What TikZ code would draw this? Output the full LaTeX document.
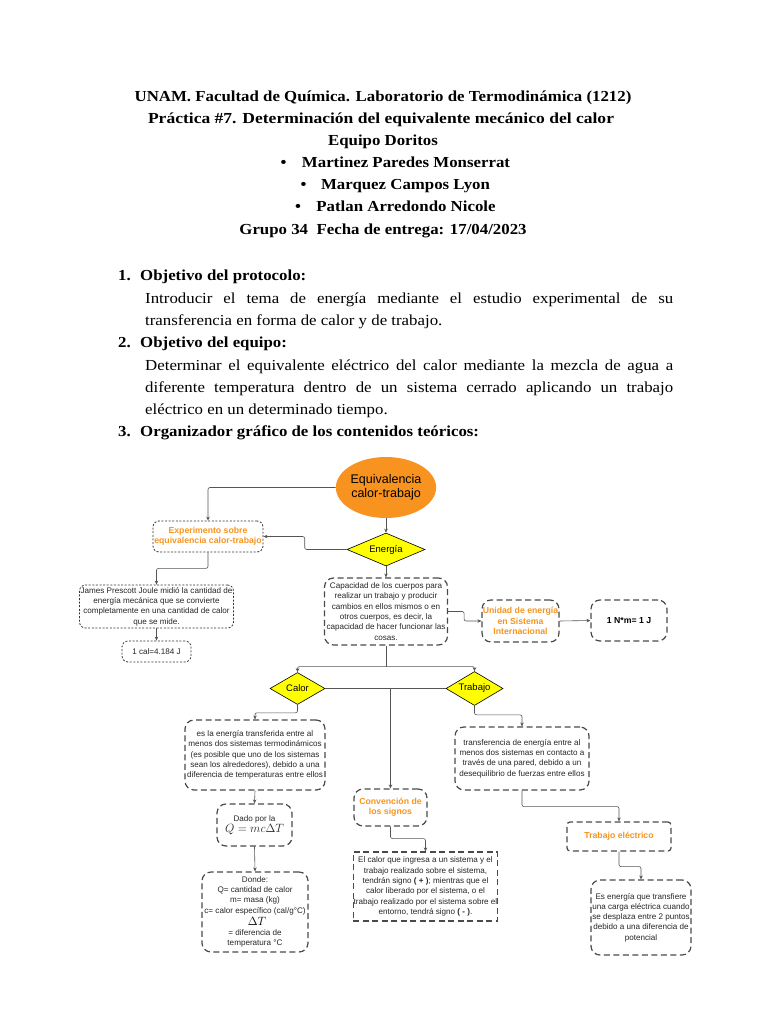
\documentclass[tikz,border=0pt]{standalone}
\usepackage{graphicx}
\usepackage{fontspec}
\setmainfont{Liberation Serif}
\newfontfamily\hdr[FakeStretch=1.1]{Liberation Serif}
\newfontfamily\dg{Liberation Sans}
\usetikzlibrary{shapes.geometric,arrows.meta}
\definecolor{orfill}{HTML}{F7931E}
\definecolor{ortxt}{HTML}{F7941D}
\definecolor{yel}{HTML}{FFFF00}
\definecolor{lc}{HTML}{555555}
\definecolor{bc}{HTML}{4A4A4A}
\definecolor{txt}{HTML}{262626}
\begin{document}
\begin{tikzpicture}[x=1pt,y=-1pt,
  conn/.style={draw=lc, line width=0.6pt, rounded corners=2pt, -{Stealth[length=4pt,width=3.5pt]}},
  plain/.style={draw=lc, line width=0.6pt, rounded corners=2pt},
  box/.style={align=center, inner xsep=0.5pt, inner ysep=0pt, fill=white, text=txt, font=\dg\fontsize{8.1}{10.3}\selectfont},
  dotbox/.style={box, draw=black!80, line width=0.8pt, dash pattern=on 2pt off 1.6pt, rounded corners=6pt},
  dashbox/.style={box, draw=bc, line width=1.2pt, dash pattern=on 6pt off 3.5pt, rounded corners=9pt},
  wh/.style 2 args={minimum width=#1, minimum height=#2},
  otx/.style={text=ortxt, font=\dg\bfseries\fontsize{8.7}{10.3}\selectfont},
  dia/.style={diamond, draw=black, line width=0.6pt, fill=yel, inner sep=0pt, aspect=2, font=\dg\fontsize{9.5}{11}\selectfont},
  hd/.style={anchor=base, inner sep=0pt, font=\hdr\bfseries\fontsize{15.3}{22.2}\selectfont},
  hdw/.style={anchor=base west, inner sep=0pt, font=\hdr\bfseries\fontsize{15.3}{22.2}\selectfont},
  bd/.style={anchor=base west, inner sep=0pt, font=\hdr\fontsize{15.3}{22.2}\selectfont},
]
\fill[white] (0,0) rectangle (768,1024);
\useasboundingbox (0,0) rectangle (768,1024);

% header
\node[hd] (h1) at (383,102) {UNAM. Facultad de Química. Laboratorio de Termodinámica (1212)};
\node[hd] (h2) at (381,124) {\resizebox{466pt}{\height}{Práctica \#7. Determinación del equivalente mecánico del calor}};
\node[hd] (h3) at (383,146) {Equipo Doritos};
\node[hd] (h4) at (406,168) {Martinez Paredes Monserrat};
\node[hd] (h5) at (405.5,190) {Marquez Campos Lyon};
\node[hd] (h6) at (406,212) {Patlan Arredondo Nicole};
\node[hd] (h7) at (383,234) {Grupo 34\ \ Fecha de entrega: 17/04/2023};
\node[hd, anchor=base east, xshift=-15pt] (b1) at (h4.base west) {\textbullet};
\node[hd, anchor=base east, xshift=-14pt] (b2) at (h5.base west) {\textbullet};
\node[hd, anchor=base east, xshift=-15pt] (b3) at (h6.base west) {\textbullet};

% sections
\node[hdw] (n1) at (118,280) {1.};
\node[hdw] (s1) at (140,280) {Objetivo del protocolo:};
\node[bd] (p1a) at (145,303) {\makebox[528pt][s]{Introducir el tema de energía mediante el estudio experimental de su}};
\node[bd] (p1b) at (145,325) {transferencia en forma de calor y de trabajo.};
\node[hdw] (n2) at (118,347) {2.};
\node[hdw] (s2) at (140,347) {Objetivo del equipo:};
\node[bd] (p2a) at (145,370) {\makebox[528pt][s]{Determinar el equivalente eléctrico del calor mediante la mezcla de agua a}};
\node[bd] (p2b) at (145,392) {\makebox[528pt][s]{diferente temperatura dentro de un sistema cerrado aplicando un trabajo}};
\node[bd] (p2c) at (145,414) {eléctrico en un determinado tiempo.};
\node[hdw] (n3) at (118,436) {3.};
\node[hdw] (s3) at (140,436) {Organizador gráfico de los contenidos teóricos:};

% diagram nodes
\node[ellipse, fill=orfill, minimum width=94pt, minimum height=61pt, inner sep=0pt, align=center, font=\dg\fontsize{12.5}{14.5}\selectfont] (eq) at (386,487.5) {Equivalencia\\calor-trabajo};
\node[dia, minimum width=78pt, minimum height=33pt] (en) at (386,549.5) {Energía};
\node[dotbox, wh={110pt}{31pt}, otx] (exp) at (208,536.5) {Experimento sobre\\equivalencia calor-trabajo};
\node[dotbox, wh={154pt}{43pt}] (jo) at (156.5,606.5) {James Prescott Joule midió la cantidad de\\energía mecánica que se convierte\\completamente en una cantidad de calor\\que se mide.};
\node[dotbox, wh={69pt}{21pt}] (cal) at (156.5,651.5) {1 cal=4.184 J};
\node[dashbox, wh={123pt}{67pt}] (cap) at (386,611.5) {Capacidad de los cuerpos para\\realizar un trabajo y producir\\cambios en ellos mismos o en\\otros cuerpos, es decir, la\\capacidad de hacer funcionar las\\cosas.};
\node[dashbox, wh={77pt}{42pt}, otx] (uni) at (520.5,621) {Unidad de energía\\en Sistema\\Internacional};
\node[dashbox, wh={76pt}{41pt}, text=black, font=\dg\bfseries\fontsize{8.7}{10}\selectfont] (nm) at (629,620.5) {1 N*m= 1 J};
\node[dia, minimum width=55pt, minimum height=32pt] (ca) at (297.5,688.5) {Calor};
\node[dia, minimum width=57pt, minimum height=34pt] (tr) at (474.5,688.5) {Trabajo};
\node[dashbox, wh={140pt}{70pt}] (cb) at (255,755) {es la energía transferida entre al\\menos dos sistemas termodinámicos\\(es posible que uno de los sistemas\\sean los alrededores), debido a una\\diferencia de temperaturas entre ellos};
\node[dashbox, wh={134pt}{63pt}] (tb) at (522,758.5) {transferencia de energía entre al\\menos dos sistemas en contacto a\\través de una pared, debido a un\\desequilibrio de fuerzas entre ellos};
\node[dashbox, wh={75pt}{42pt}] (da) at (254.5,825) {Dado por la\\[1pt]{\fontsize{12.5}{13}\selectfont$Q = mc\Delta T$}};
\node[dashbox, wh={106pt}{80pt}] (do) at (255,912) {Donde:\\Q= cantidad de calor\\m= masa (kg)\\c= calor específico (cal/g°C)\\[12pt]= diferencia de\\temperatura °C};
\node[anchor=base, inner sep=0pt, font=\fontsize{12}{13}\selectfont] (dt) at (257,925) {$\Delta T$};
\node[dashbox, wh={73pt}{37pt}, otx] (cv) at (390.5,807.5) {Convención de\\los signos};
\node[dashbox, wh={143pt}{69pt}, rounded corners=0pt] (cs) at (425.5,886.5) {El calor que ingresa a un sistema y el\\trabajo realizado sobre el sistema,\\tendrán signo \textbf{( + )}; mientras que el\\calor liberado por el sistema, o el\\trabajo realizado por el sistema sobre el\\entorno, tendrá signo \textbf{( - )}.};
\node[dashbox, wh={104pt}{29pt}, rounded corners=3pt, otx] (te) at (619,836.5) {Trabajo eléctrico};
\node[dashbox, wh={100pt}{75pt}] (ee) at (641,917.5) {Es energía que transfiere\\una carga eléctrica cuando\\se desplaza entre 2 puntos\\debido a una diferencia de\\potencial};

% connectors
\draw[conn] (eq.west) -| (exp.north);
\draw[conn] (eq.south) -- (en.north);
\draw[conn] (en.west) -- ++(-42,0) |- (exp.east);
\draw[conn] (exp.south) -- ++(0,16) -| (jo.north);
\draw[conn] (jo.south) -- (cal.north);
\draw[conn] (en.south) -- (cap.north);
\draw[conn] (cap.east) -- ++(16,0) |- (uni.west);
\draw[conn] (uni.east) -- (nm.west);
\draw[plain] (cap.south) -- ++(0,21) coordinate (hub);
\draw[conn] (hub) -| (ca.north);
\draw[conn] (hub) -| (tr.north);
\draw[plain] (ca.east) -- (tr.west);
\draw[conn] (ca.east -| cv.north) -- (cv.north);
\draw[conn] (ca.south) -- ++(0,8) -| (cb.north);
\draw[conn] (cb.south) -- (da.north);
\draw[conn] (da.south) -- (do.north);
\draw[conn] (tr.south) -- ++(0,9) -| (tb.north);
\draw[conn] (tb.south) -- ++(0,16) -| (te.north);
\draw[conn] (te.south) -- ++(0,15) -| (ee.north);
\draw[conn] (cv.south) -- ++(0,12) -| (cs.north);
\end{tikzpicture}
\end{document}
